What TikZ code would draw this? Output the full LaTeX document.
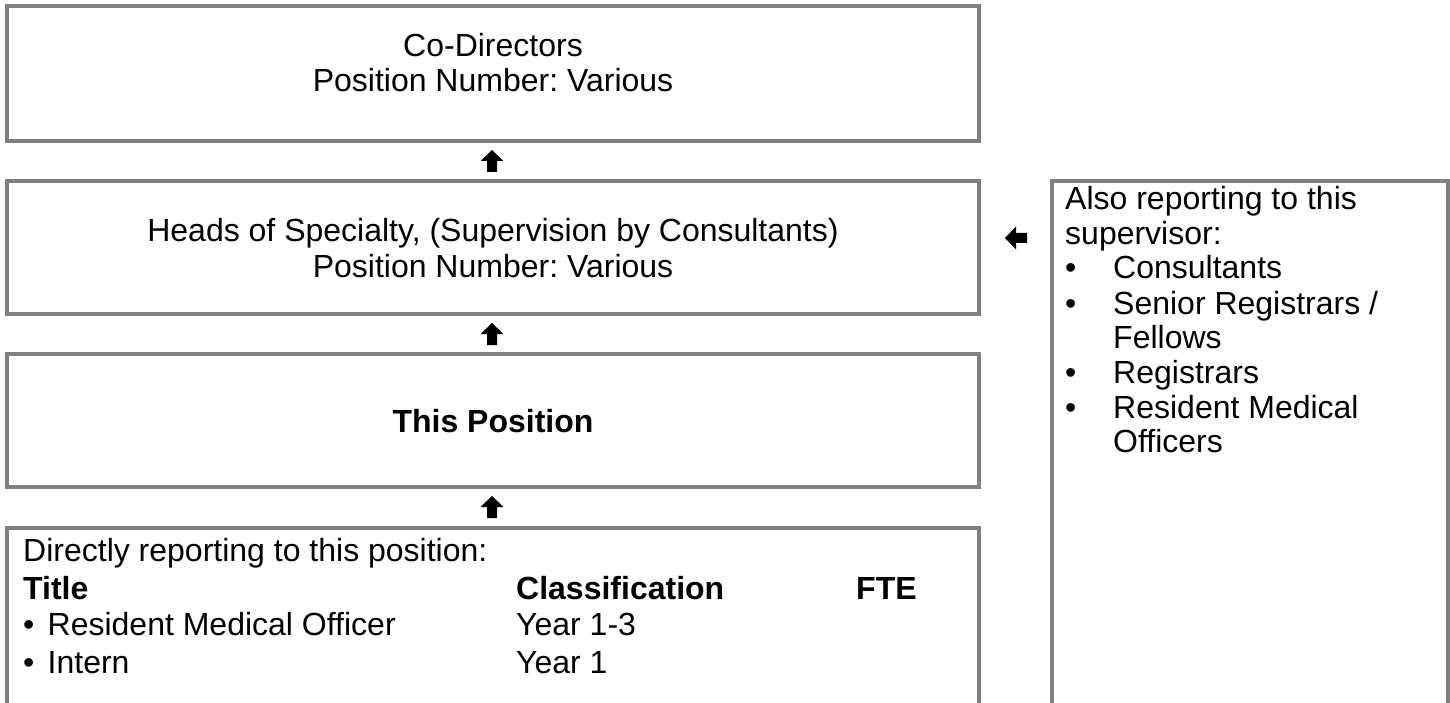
\documentclass[tikz,border=0pt]{standalone}
\usepackage{fontspec}
\setmainfont{Liberation Sans}
\frenchspacing
\definecolor{boxgray}{RGB}{128,128,128}
\begin{document}
\begin{tikzpicture}[x=1pt,y=-1pt,
  box/.style={draw=boxgray,line width=4pt,inner sep=0pt},
  ctext/.style={inner sep=0pt,anchor=base,font=\fontsize{32}{36}\selectfont},
  txt/.style={inner sep=0pt,anchor=base west,font=\fontsize{32}{36}\selectfont},
  uparrow/.pic={\fill[black] (-11.5,0) -- (0,-11) -- (11.5,0) -- (5,0) -- (5,11) -- (-5,11) -- (-5,0) -- cycle;},
  leftarrow/.pic={\fill[black] (0,-11.5) -- (-11,0) -- (0,11.5) -- (0,5) -- (11,5) -- (11,-5) -- (0,-5) -- cycle;}
]
\useasboundingbox (0,0) rectangle (1450,703);
\node[box,minimum width=972pt,minimum height=135pt] (b1) at (493,73.5) {};
\node[box,minimum width=972pt,minimum height=133pt] (b2) at (493,247.5) {};
\node[box,minimum width=972pt,minimum height=133pt] (b3) at (493,420.5) {};
\node[ctext] (b1a) at (493,57) {Co-Directors};
\node[ctext] (b1b) at (493,92) {Position Number: Various};
\node[ctext] (b2a) at (493,242) {Heads of Specialty, (Supervision by Consultants)};
\node[ctext] (b2b) at (493,277) {Position Number: Various};
\node[ctext] (b3a) at (493,432) {\bfseries This Position};
\coordinate (b4w) at (7,703);
\coordinate (b4e) at (979,703);
\draw[boxgray,line width=4pt] (b4w) |- (979,528) -- (b4e);
\coordinate (rw) at (1052,703);
\coordinate (re) at (1448,703);
\draw[boxgray,line width=4pt] (rw) |- (1448,181) -- (re);
\pic at (492,161) {uparrow};
\pic at (492,334) {uparrow};
\pic at (492,507) {uparrow};
\pic at (1016,238) {leftarrow};
% bottom box text
\node[txt] (d0) at (23,561) {Directly reporting to this position:};
\node[txt] (d1) at (23,599) {\bfseries Title};
\node[txt] (d2) at (516,599) {\bfseries Classification};
\node[txt] (d3) at (856,599) {\bfseries FTE};
\node[txt] (d4b) at (23,635) {\textbullet};
\node[txt] (d4) at (47.5,635) {Resident Medical Officer};
\node[txt] (d5) at (516,635) {Year 1-3};
\node[txt] (d6b) at (23,673) {\textbullet};
\node[txt] (d6) at (47.5,673) {Intern};
\node[txt] (d7) at (516,673) {Year 1};
% right box text
\node[txt] (r0) at (1065,210) {Also reporting to this};
\node[txt] (r1) at (1065,244) {supervisor:};
\foreach \y/\t [count=\i] in {279/{Consultants},314/{Senior Registrars /},348/{Fellows},383/{Registrars},418/{Resident Medical},452/{Officers}}{
  \node[txt] (ri\i) at (1113,\y) {\t};
}
\foreach \y [count=\i] in {279,314,383,418}{
  \node[txt] (rb\i) at (1065,\y) {\textbullet};
}
\end{tikzpicture}
\end{document}
